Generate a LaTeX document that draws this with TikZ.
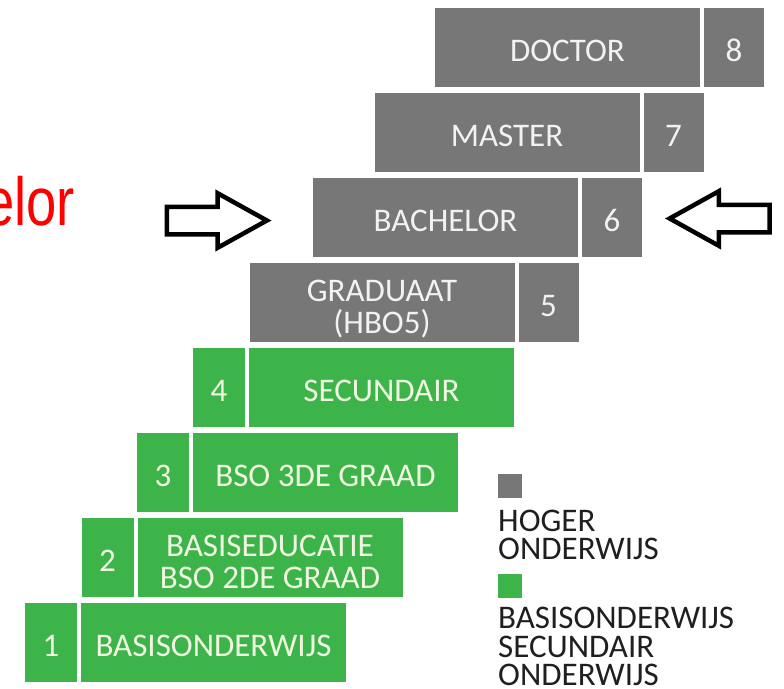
\documentclass[tikz,border=0pt]{standalone}
\usepackage{fontspec}
\setmainfont{Carlito}
\newfontfamily\roodfont[FakeStretch=0.8]{Liberation Sans}
\usetikzlibrary{positioning,shapes.arrows}

\definecolor{hogergrijs}{RGB}{119,119,119}
\definecolor{basisgroen}{RGB}{61,180,74}
\definecolor{grijstekst}{RGB}{242,242,242}
\definecolor{groentekst}{RGB}{240,246,226}

\tikzset{
    niveau/.style={inner sep=0pt, outer sep=0pt, minimum height=79pt,
        text height=28.8pt, text depth=0pt,
        align=center, font=\fontsize{33}{32}\selectfont},
    tweeregels/.style={text height=62pt, text depth=0pt},
    hoger/.style={niveau, fill=hogergrijs, text=grijstekst},
    basis/.style={niveau, fill=basisgroen, text=groentekst},
    titel/.style={minimum width=265pt},
    nummer/.style={minimum width=60pt},
    groennummer/.style={minimum width=52pt},
    pijl/.style={single arrow, draw=black, line width=4.5pt, fill=white,
        inner xsep=0pt, inner ysep=11.5pt, minimum height=100pt, minimum width=0pt,
        single arrow head extend=13.5pt, single arrow tip angle=58},
    vakje/.style={anchor=north west, inner sep=0pt, minimum size=24pt},
    legenda/.style={anchor=north west, inner sep=0pt, align=left,
        text=black!88, font=\fontsize{33}{28.5}\selectfont}
}

\begin{document}
\begin{tikzpicture}[x=1pt, y=-1pt]
    \useasboundingbox (0,0) rectangle (784,688);

    % hoger onderwijs
    \node[hoger, titel] (doctor) at (567.5,47.5) {DOCTOR};
    \node[hoger, nummer, right=4pt of doctor] (n8) {8};
    \node[hoger, titel] (master) at (507,132.5) {MASTER};
    \node[hoger, nummer, right=4pt of master] (n7) {7};
    \node[hoger, titel] (bachelor) at (445.5,217.5) {BACHELOR};
    \node[hoger, nummer, right=4pt of bachelor] (n6) {6};
    \node[hoger, titel, tweeregels] (graduaat) at (382,302.5) {GRADUAAT\\(HBO5)};
    \node[hoger, nummer, right=4pt of graduaat] (n5) {5};

    % basisonderwijs en secundair
    \node[basis, groennummer] (n4) at (219,387.5) {4};
    \node[basis, titel, right=4pt of n4] (secundair) {SECUNDAIR};
    \node[basis, groennummer] (n3) at (163,472.5) {3};
    \node[basis, titel, right=4pt of n3] (bsodrie) {BSO 3DE GRAAD};
    \node[basis, groennummer] (n2) at (107.5,557.5) {2};
    \node[basis, titel, tweeregels, right=4pt of n2] (bsotwee) {BASISEDUCATIE\\BSO 2DE GRAAD};
    \node[basis, groennummer] (n1) at (51,642.5) {1};
    \node[basis, titel, right=4pt of n1] (basisonderwijs) {BASISONDERWIJS};

    % pijlen naar bachelor
    \node[pijl, anchor=tip] (pijlrechts) at (271.5,220.5) {};
    \node[pijl, shape border rotate=180, anchor=tip] (pijllinks) at (665,218.5) {};
    \node[anchor=base west, inner sep=0pt, text=red,
        font=\roodfont\fontsize{68}{68}\selectfont] (bachelortekst) at (-16,225) {elor};

    % legenda
    \node[vakje, fill=hogergrijs] (vakgrijs) at (498,474) {};
    \node[legenda] (hogerlabel) at (498,509.5) {HOGER\\ONDERWIJS};
    \node[vakje, fill=basisgroen] (vakgroen) at (498,574) {};
    \node[legenda] (basislabel) at (498,607) {BASISONDERWIJS\\SECUNDAIR\\ONDERWIJS};
\end{tikzpicture}
\end{document}
